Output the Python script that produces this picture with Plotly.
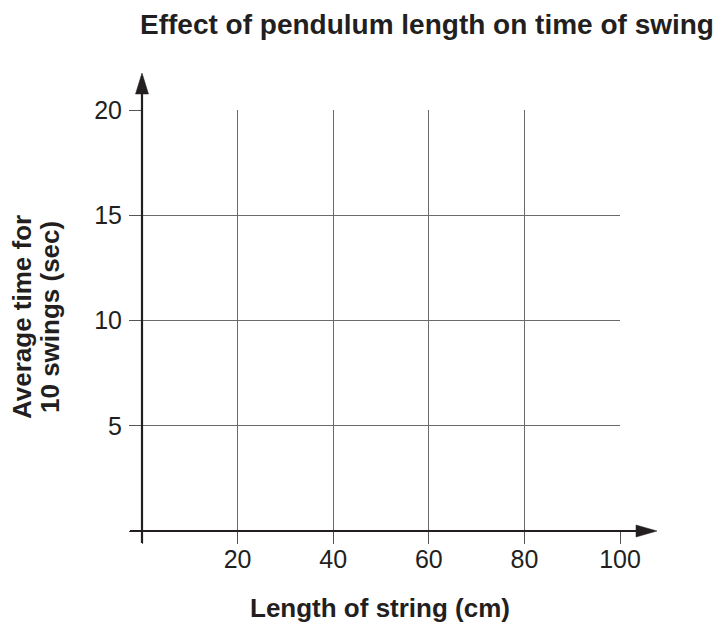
import plotly.graph_objects as go

x_ticks = [0, 20, 40, 60, 80, 100]
x_labels = ["", "20", "40", "60", "80", "100"]
y_ticks = [0, 5, 10, 15, 20]
y_labels = ["", "5", "10", "15", "20"]
title = "Effect of pendulum length on time of swing"
x_title = "Length of string (cm)"
y_title_lines = ["Average time for", "10 swings (sec)"]

# page body has an 8px margin, so the figure is drawn 8px in from the corner
OFF = 8
W, H = 721 - OFF, 624 - OFF
PL, PR, PT, PB = 142, 620, 110, 531   # plot area in page pixels
L, R, T, B = PL - OFF, W - (PR - OFF), PT - OFF, H - (PB - OFF)
PW, PH = PR - PL, PB - PT
ink = "#231f20"
FONT = "Liberation Sans"

def px(page_x):
    return (page_x - PL) / PW

def py(page_y):
    return (PB - page_y) / PH

fig = go.Figure()
fig.add_trace(go.Scatter(x=[], y=[], mode="markers", showlegend=False))

axis_common = dict(
    showgrid=True, gridcolor="#6a6a6a", gridwidth=1,
    zeroline=False, showline=False,
    ticks="outside", ticklen=12, tickwidth=1, tickcolor="#555",
    tickfont=dict(family=FONT, size=25, color=ink),
)
fig.update_xaxes(range=[0, 100], tickvals=x_ticks, ticktext=x_labels,
                 ticklabelstandoff=-6, **axis_common)
fig.update_yaxes(range=[0, 20], tickvals=y_ticks, ticktext=y_labels,
                 ticklabelstandoff=2, **axis_common)

shapes = []
# x axis line with arrow
shapes.append(dict(type="line", xref="paper", yref="paper",
                   x0=px(PL - 12), x1=px(PR + 20), y0=0, y1=0,
                   line=dict(color=ink, width=2.2)))
shapes.append(dict(type="path", xref="paper", yref="paper",
                   path=f"M {px(PR+16)},{py(PB-6)} L {px(PR+37)},0 L {px(PR+16)},{py(PB+6)} Z",
                   fillcolor=ink, line=dict(color=ink, width=0.5)))
# y axis line with arrow
shapes.append(dict(type="line", xref="paper", yref="paper",
                   x0=0, x1=0, y0=py(PB + 12), y1=py(PT - 20),
                   line=dict(color=ink, width=2.2)))
shapes.append(dict(type="path", xref="paper", yref="paper",
                   path=f"M {px(PL-6.5)},{py(PT-16)} L 0,{py(PT-37)} L {px(PL+6.5)},{py(PT-16)} Z",
                   fillcolor=ink, line=dict(color=ink, width=0.5)))

annotations = [
    dict(text=f"<b>{title}</b>", xref="paper", yref="paper",
         x=px(427), y=py(24), xanchor="center", yanchor="middle",
         showarrow=False, font=dict(family=FONT, size=28, color=ink)),
    dict(text=f"<b>{x_title}</b>", xref="paper", yref="paper",
         x=px(380), y=py(608), xanchor="center", yanchor="middle",
         showarrow=False, font=dict(family=FONT, size=26, color=ink)),
]
for line_text, cx in zip(y_title_lines, [22, 50]):
    annotations.append(dict(
        text=f"<b>{line_text}</b>", xref="paper", yref="paper",
        x=px(cx), y=py(317), xanchor="center", yanchor="middle",
        textangle=-90, showarrow=False,
        font=dict(family=FONT, size=26, color=ink)))

fig.update_layout(
    width=W, height=H,
    margin=dict(l=L, r=R, t=T, b=B, autoexpand=False),
    paper_bgcolor="white", plot_bgcolor="white",
    shapes=shapes, annotations=annotations,
    showlegend=False,
)

fig.write_html("out.html")
